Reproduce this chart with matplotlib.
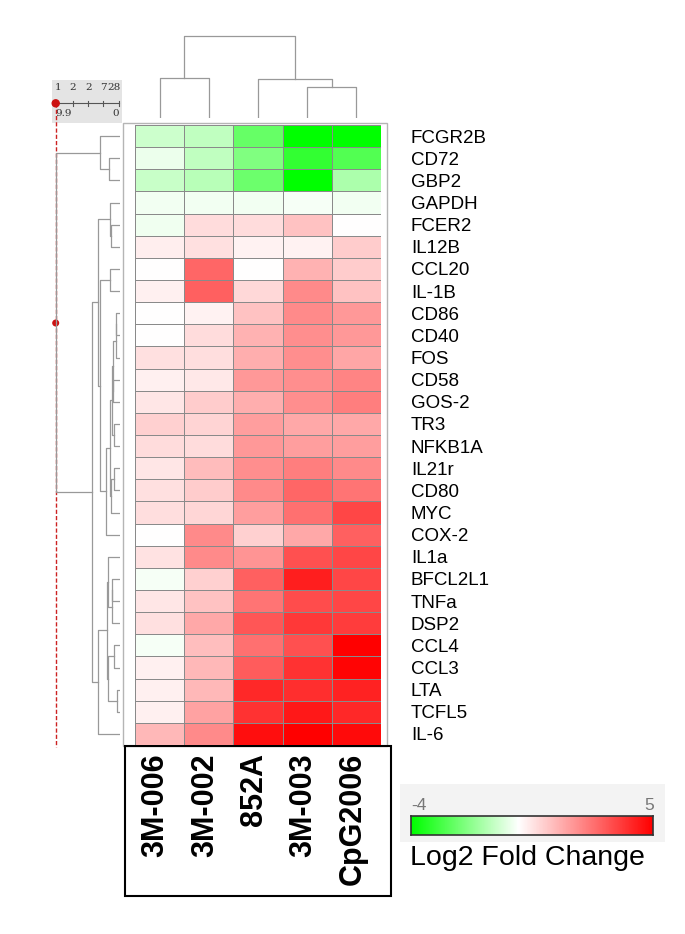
import numpy as np
import matplotlib
matplotlib.use("Agg")
import matplotlib.pyplot as plt
from matplotlib.colors import LinearSegmentedColormap, TwoSlopeNorm
from matplotlib.patches import Rectangle, Circle
from matplotlib.transforms import blended_transform_factory

plt.rcParams['font.family'] = ['Liberation Sans', 'DejaVu Sans']

# ---- data ----
samples = ["3M-006", "3M-002", "852A", "3M-003", "CpG2006"]
genes = ["FCGR2B", "CD72", "GBP2", "GAPDH", "FCER2", "IL12B", "CCL20", "IL-1B",
         "CD86", "CD40", "FOS", "CD58", "GOS-2", "TR3", "NFKB1A", "IL21r",
         "CD80", "MYC", "COX-2", "IL1a", "BFCL2L1", "TNFa", "DSP2", "CCL4",
         "CCL3", "LTA", "TCFL5", "IL-6"]

# log2 fold change, one list per sample column
fc_3m006 = [-0.8, -0.3, -0.85, -0.2, -0.25, 0.35, 0.0, 0.3, 0.0, 0.0, 0.6, 0.3, 0.5, 0.9,
            0.7, 0.5, 0.6, 0.65, 0.0, 0.55, -0.15, 0.5, 0.6, -0.15, 0.3, 0.3, 0.3, 1.4]
fc_3m002 = [-1.0, -1.0, -1.1, -0.2, 0.7, 0.6, 3.0, 3.1, 0.25, 0.7, 0.65, 0.45, 1.0, 0.85,
            0.7, 1.3, 1.0, 0.8, 2.3, 2.3, 0.9, 1.2, 1.7, 1.25, 1.4, 1.4, 1.8, 2.3]
fc_852a = [-2.4, -2.0, -2.3, -0.2, 0.7, 0.25, 0.0, 0.75, 1.2, 1.5, 1.6, 2.0, 1.6, 1.9,
           2.0, 2.2, 2.3, 1.9, 0.9, 2.1, 3.1, 2.7, 3.3, 2.8, 3.2, 4.2, 4.0, 4.7]
fc_3m003 = [-4.0, -3.2, -4.0, -0.15, 1.2, 0.25, 1.5, 2.3, 2.3, 2.2, 2.2, 2.2, 2.2, 1.7,
            1.9, 2.5, 3.0, 2.8, 1.7, 3.4, 4.4, 3.5, 3.9, 3.4, 4.0, 4.1, 4.5, 5.0]
fc_cpg2006 = [-4.0, -2.7, -1.3, -0.2, 0.0, 1.0, 1.0, 1.2, 2.0, 2.0, 1.75, 2.4, 2.5, 1.7,
              1.9, 2.3, 2.7, 3.6, 3.1, 3.6, 3.6, 3.6, 3.8, 5.0, 4.9, 4.3, 4.2, 4.8]

# dendrograms: (left, right, merge height); leaves are row / column indices
row_tree = (
    (0, (1, 2, 10.7), 20),
    (
        ((3, (4, 5, 9), 10),
         ((6, 7, 10),
          ((((((8, 9, 4), 10, 4.5), (11, 12, 7), 7.5), (13, 14, 6.5), 8),
            ((15, 16, 6), 17, 9), 10), 18, 14.3), 20), 21.7),
        (((19, ((20, 21, 8), 22, 8.5), 12), ((23, 24, 6), (25, 26, 3.3), 12), 13.3),
         27, 21.7),
        28.3),
    64)
col_tree = ((0, 1, 40), (2, (3, 4, 31), 38.4), 81.7)

vmin, vmax = -4, 5

# ---- layout ----
W, H = 685, 934
fig = plt.figure(figsize=(W / 100, H / 100), dpi=100)


def rect(x0, y0, x1, y1):
    return [x0 / W, 1 - y1 / H, (x1 - x0) / W, (y1 - y0) / H]


cmap = LinearSegmentedColormap.from_list("gwr", ["#00ff00", "#ffffff", "#ff0000"])
norm = TwoSlopeNorm(vmin=vmin, vcenter=0, vmax=vmax)

# decoration layer in pixel coordinates
deco = fig.add_axes([0, 0, 1, 1])
deco.set_xlim(0, W)
deco.set_ylim(H, 0)
deco.axis("off")
deco.add_patch(Rectangle((123, 123), 264, 623, fill=False, ec="#b5b5b5", lw=1))
deco.add_patch(Rectangle((125, 746), 266, 150, fill=False, ec="black", lw=1.5))
deco.add_patch(Rectangle((52, 80), 70, 43, fc="#e4e4e4", ec="none"))
for x, s in zip([58.3, 72.3, 88.3, 103.3, 113.5], ["1", "2", "2", "7", "28"]):
    deco.text(x, 88, s, family="DejaVu Serif", fontsize=7.5, ha="center", va="center", color="#333333")
deco.plot([56, 119.3], [103.3, 103.3], color="#555555", lw=0.8)
for x in [72.7, 88.3, 103.3, 119.3]:
    deco.plot([x, x], [100.5, 106], color="#555555", lw=0.8)
deco.text(55, 113.5, "9.9", family="DejaVu Serif", fontsize=7.5, ha="left", va="center", color="#333333")
deco.text(119, 113.5, "0", family="DejaVu Serif", fontsize=7.5, ha="right", va="center", color="#333333")
deco.plot([55.7, 55.7], [103, 747], color="#cc2222", lw=1, ls=(0, (3, 1.5)), zorder=5)
deco.add_patch(Circle((55.7, 103.3), 3.5, color="#cc1111", zorder=6))
deco.add_patch(Circle((55.7, 323), 2.8, color="#cc1111", zorder=6))
deco.add_patch(Rectangle((400, 784), 265, 58, fc="#f3f3f3", ec="none"))

# heatmap
values = np.array([fc_3m006, fc_3m002, fc_852a, fc_3m003, fc_cpg2006]).T
ax = fig.add_axes(rect(135, 125, 381, 745))
ax.set_facecolor("none")
ax.pcolormesh(values, cmap=cmap, norm=norm, edgecolors="#8a8a8a", linewidth=0.6)
ax.set_xlim(0, len(samples))
ax.set_ylim(len(genes), 0)
for s in ax.spines.values():
    s.set_visible(False)
ax.set_xticks([])
ax.set_yticks(np.arange(len(genes)) + 0.5, genes)
ax.yaxis.tick_right()
ax.tick_params(axis="y", length=0, pad=21.5, labelsize=13.5)
trans = blended_transform_factory(ax.transData, ax.transAxes)
for j, s in enumerate(samples):
    ax.text(j + 0.42, -0.013, s, transform=trans, rotation=90, ha="center", va="top",
            fontsize=22, fontweight="bold")


def draw_tree(a, node, vertical):
    if isinstance(node, int):
        return node + 0.5, 0.0
    left, right, h = node
    p1, h1 = draw_tree(a, left, vertical)
    p2, h2 = draw_tree(a, right, vertical)
    if vertical:
        a.plot([p1, p1, p2, p2], [h1, h, h, h2], color="#999999", lw=0.9)
    else:
        a.plot([h1, h, h, h2], [p1, p1, p2, p2], color="#999999", lw=0.9)
    return (p1 + p2) / 2, h


# row dendrogram
axr = fig.add_axes(rect(50, 125, 120, 745))
axr.set_xlim(70, 0)
axr.set_ylim(len(genes), 0)
axr.axis("off")
draw_tree(axr, row_tree, False)

# column dendrogram
axc = fig.add_axes(rect(135, 20, 381, 117.7))
axc.set_xlim(0, len(samples))
axc.set_ylim(0, 97.7)
axc.axis("off")
draw_tree(axc, col_tree, True)

# colour key
axk = fig.add_axes(rect(411, 816, 653, 835))
grad = np.linspace(vmin, vmax, 400)[None, :]
axk.imshow(grad, cmap=cmap, norm=norm, aspect="auto", extent=(vmin, vmax, 0, 1))
axk.set_xticks([])
axk.set_yticks([])
for s in axk.spines.values():
    s.set_color("#333333")
    s.set_linewidth(1.2)
deco.text(411, 805, str(vmin), fontsize=12.5, color="#777777", ha="left", va="center")
deco.text(654, 805, str(vmax), fontsize=12.5, color="#777777", ha="right", va="center")
deco.text(410, 858, "Log2 Fold Change", fontsize=20.5, ha="left", va="center")

fig.savefig("out.png", dpi=100)
